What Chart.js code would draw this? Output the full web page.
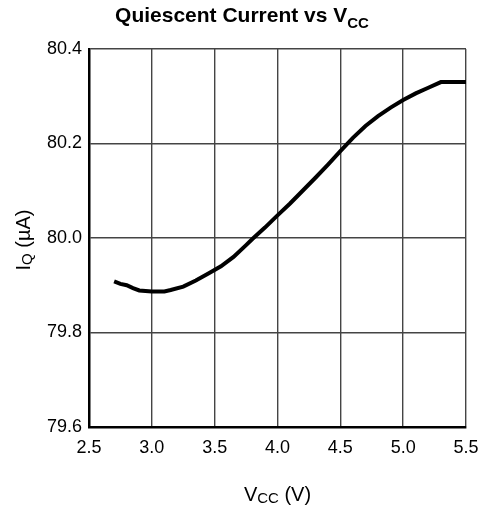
<!DOCTYPE html>
<html>
<head>
<meta charset="utf-8">
<script src="https://cdn.jsdelivr.net/npm/chart.js@4"></script>
<style>
  html, body { margin: 0; padding: 0; background: #fff; }
  #wrap { width: 480px; height: 509px; }
</style>
</head>
<body>
<div id="wrap"><canvas id="iqChart" width="480" height="509"></canvas></div>
<script>
// values
const vcc = [2.70, 2.75, 2.80, 2.85, 2.90, 3.00, 3.10, 3.15, 3.25, 3.35, 3.45, 3.55, 3.65, 3.75, 3.80,
             3.90, 4.00, 4.10, 4.20, 4.30, 4.40, 4.50, 4.60, 4.70, 4.80, 4.90, 5.00, 5.10, 5.20, 5.30, 5.40, 5.50];
const iq = [79.908, 79.903, 79.900, 79.894, 79.889, 79.887, 79.887, 79.890, 79.897, 79.910, 79.925, 79.940,
            79.960, 79.985, 79.998, 80.022, 80.048, 80.073, 80.100, 80.127, 80.155, 80.184, 80.212, 80.237,
            80.258, 80.276, 80.292, 80.306, 80.318, 80.330, 80.330, 80.330];
const xTicks = [2.5, 3.0, 3.5, 4.0, 4.5, 5.0, 5.5];
const yTicks = [79.6, 79.8, 80.0, 80.2, 80.4];

const FONT = "'Liberation Sans', Arial, Helvetica, sans-serif";

// text with a subscript part, centered on cx, alphabetic baseline at by
function subText(ctx, parts, cx, by, rotate) {
    ctx.save();
    ctx.translate(cx, by);
    if (rotate) ctx.rotate(-Math.PI / 2);
    let total = 0;
    parts.forEach(p => { ctx.font = p.font; total += ctx.measureText(p.text).width; });
    let x = -total / 2;
    ctx.fillStyle = "#000";
    ctx.textBaseline = "alphabetic";
    ctx.textAlign = "left";
    parts.forEach(p => {
        ctx.font = p.font;
        ctx.fillText(p.text, x, p.dy || 0);
        x += ctx.measureText(p.text).width;
    });
    ctx.restore();
}

const labelsPlugin = {
    id: "labels",
    afterDraw(chart) {
        const ctx = chart.ctx;
        const area = chart.chartArea;
        subText(ctx, [
            { text: "Quiescent Current vs V", font: "bold 21px " + FONT },
            { text: "CC", font: "bold 15px " + FONT, dy: 6 }
        ], 242, 22, false);
        subText(ctx, [
            { text: "V", font: "20px " + FONT },
            { text: "CC", font: "15px " + FONT, dy: 2 },
            { text: " (V)", font: "20px " + FONT }
        ], (area.left + area.right) / 2, 501, false);
        subText(ctx, [
            { text: "I", font: "20px " + FONT },
            { text: "Q", font: "15px " + FONT, dy: 2 },
            { text: " (\u00B5A)", font: "20px " + FONT }
        ], 30, 240, true);
    }
};

const ctx = document.getElementById("iqChart");

new Chart(ctx, {
    type: "line",
    data: {
        datasets: [{
            data: vcc.map((v, i) => ({ x: v, y: iq[i] })),
            borderColor: "#000",
            borderWidth: 4,
            pointRadius: 0,
            tension: 0,
            fill: false
        }]
    },
    options: {
        responsive: false,
        animation: false,
        layout: { padding: { top: 49, right: 14, left: 0, bottom: 0 } },
        plugins: {
            legend: { display: false },
            tooltip: { enabled: false },
            title: { display: false }
        },
        scales: {
            x: {
                type: "linear",
                min: 2.5,
                max: 5.5,
                afterFit: s => {
                    s.height = 82;
                    s.paddingLeft = 0;
                    s.paddingRight = 0;
                },
                afterBuildTicks: s => { s.ticks = xTicks.map(v => ({ value: v })); },
                ticks: {
                    color: "#000",
                    font: { family: FONT, size: 18 },
                    padding: 10,
                    maxRotation: 0,
                    callback: v => v.toFixed(1)
                },
                grid: { color: "#444", lineWidth: 1.4, drawTicks: false },
                border: { color: "#000", width: 2.5 }
            },
            y: {
                min: 79.6,
                max: 80.4,
                afterFit: s => {
                    s.width = 89;
                    s.paddingTop = 0;
                    s.paddingBottom = 0;
                },
                afterBuildTicks: s => { s.ticks = yTicks.map(v => ({ value: v })); },
                ticks: {
                    color: "#000",
                    font: { family: FONT, size: 18 },
                    padding: 7,
                    callback: v => v.toFixed(1)
                },
                grid: { color: "#444", lineWidth: 1.4, drawTicks: false },
                border: { color: "#000", width: 2.5 }
            }
        }
    },
    plugins: [labelsPlugin]
});
</script>
</body>
</html>
